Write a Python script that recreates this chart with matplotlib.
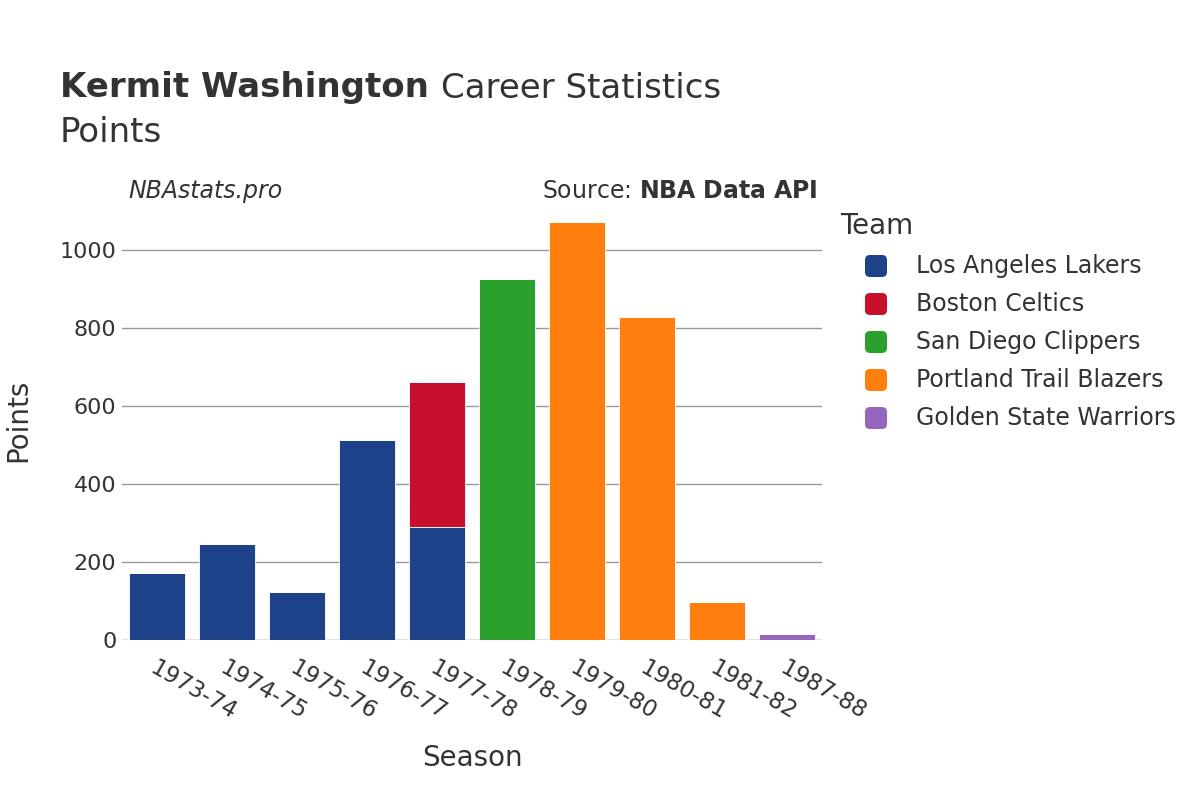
import matplotlib.pyplot as plt
from matplotlib.patches import FancyBboxPatch
from matplotlib.transforms import IdentityTransform
import numpy as np

seasons = ['1973-74', '1974-75', '1975-76', '1976-77', '1977-78',
           '1978-79', '1979-80', '1980-81', '1981-82', '1987-88']
teams = ['Los Angeles Lakers', 'Boston Celtics', 'San Diego Clippers',
         'Portland Trail Blazers', 'Golden State Warriors']
colors = ['#1d428a', '#c8102e', '#2ca02c', '#ff7f0e', '#9467bd']
# points per team per season (0 = did not play for that team)
lakers = [171, 245, 122, 514, 290, 0, 0, 0, 0, 0]
celtics = [0, 0, 0, 0, 371, 0, 0, 0, 0, 0]
clippers = [0, 0, 0, 0, 0, 925, 0, 0, 0, 0]
blazers = [0, 0, 0, 0, 0, 0, 1071, 829, 98, 0]
warriors = [0, 0, 0, 0, 0, 0, 0, 0, 0, 15]
series = [lakers, celtics, clippers, blazers, warriors]

txt = '#333333'
W, H = 1200, 800
plt.rcParams['font.family'] = ['DejaVu Sans']

fig = plt.figure(figsize=(W / 100, H / 100), dpi=100)
ax = fig.add_axes([122/W, 160/H, 700/W, 440/H])

x = np.arange(len(seasons))
bottom = np.zeros(len(seasons))
for vals, c in zip(series, colors):
    v = np.array(vals, dtype=float)
    ax.bar(x, v, width=0.79, bottom=bottom, color=c, edgecolor='white',
           linewidth=0.6, zorder=3)
    bottom += v

ax.set_xlim(-0.5, len(seasons) - 0.5)
ax.set_ylim(0, 1128)
ax.set_yticks([0, 200, 400, 600, 800, 1000])
ax.grid(axis='y', color='#999999', linewidth=1, zorder=0)
ax.axhline(0, color='#e0e0e0', linewidth=2, zorder=2)
for s in ax.spines.values():
    s.set_visible(False)
ax.tick_params(length=0, labelsize=16, colors=txt, pad=4)
ax.tick_params(axis='x', labelsize=16.5, pad=12)
ax.set_xticks(x)
ax.set_xticklabels(seasons, rotation=-30, ha='left', rotation_mode='anchor')
ax.set_xlabel('Season', fontsize=20, color=txt, labelpad=14)
ax.set_ylabel('Points', fontsize=20, color=txt, labelpad=20)

# title: bold name followed by regular text
r = fig.canvas.get_renderer()
t1 = fig.text(60/W, 1 - 88/H, 'Kermit Washington', fontsize=24.5,
              weight='bold', color=txt, va='center')
bb = t1.get_window_extent(r)
fig.text((bb.x1 + 12) / W, 1 - 88/H, 'Career Statistics', fontsize=24.5,
         color=txt, va='center')
fig.text(60/W, 1 - 132/H, 'Points', fontsize=24.5, color=txt, va='center')
fig.text(128/W, 1 - 191/H, 'NBAstats.pro', fontsize=17, style='italic',
         color=txt, va='center')
fig.text(818/W, 1 - 191/H, r'Source: $\bf{NBA\ Data\ API}$', fontsize=17,
         color=txt, va='center', ha='right')

# legend drawn by hand with rounded swatches
fig.text(840/W, 1 - 226/H, 'Team', fontsize=20, color=txt, va='center')
for i, (name, c) in enumerate(zip(teams, colors)):
    yc = H - (266 + 38 * i)
    fig.patches.append(FancyBboxPatch((865, yc - 11), 22, 22,
                                      boxstyle='round,pad=0,rounding_size=5',
                                      facecolor=c, edgecolor='none',
                                      transform=IdentityTransform(),
                                      figure=fig))
    fig.text(916/W, yc / H, name, fontsize=17, color=txt, va='center')

fig.savefig('out.png', dpi=100)
